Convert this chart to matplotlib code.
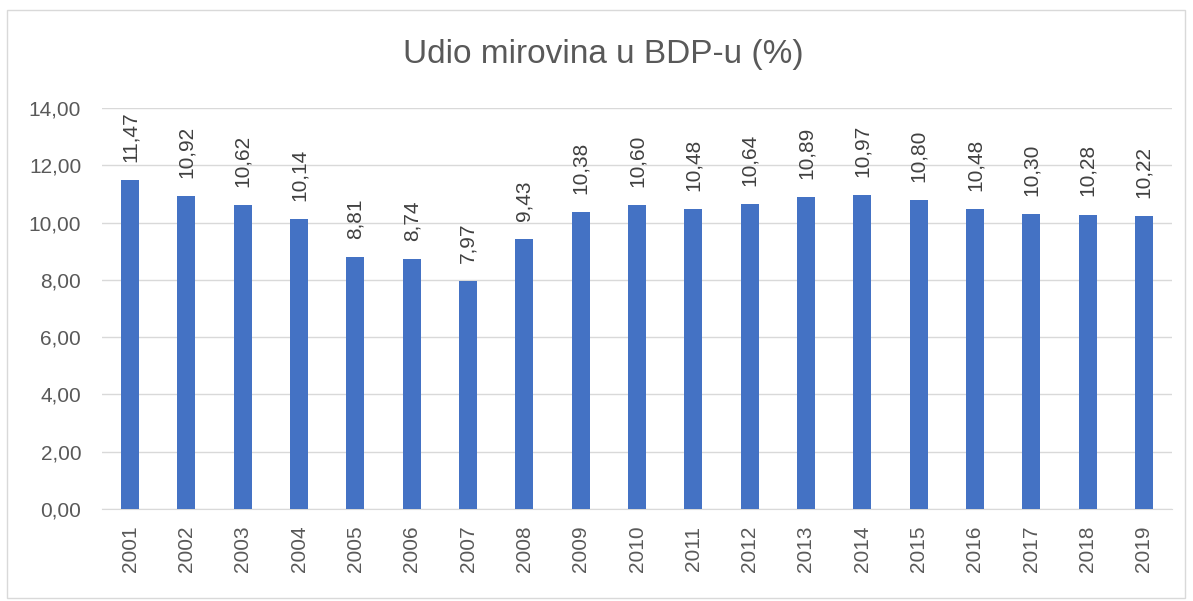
import matplotlib.pyplot as plt
from matplotlib.patches import Rectangle

years = ['2001', '2002', '2003', '2004', '2005', '2006', '2007', '2008', '2009', '2010',
         '2011', '2012', '2013', '2014', '2015', '2016', '2017', '2018', '2019']
values = [11.47, 10.92, 10.62, 10.14, 8.81, 8.74, 7.97, 9.43, 10.38, 10.60,
          10.48, 10.64, 10.89, 10.97, 10.80, 10.48, 10.30, 10.28, 10.22]
y_ticks = [0, 2, 4, 6, 8, 10, 12, 14]

plt.rcParams['font.family'] = ['Liberation Sans', 'DejaVu Sans']

fig = plt.figure(figsize=(11.93, 6.01), dpi=100)
ax = fig.add_axes([102 / 1193, 1 - 509 / 601, (1172 - 102) / 1193, (509 - 108) / 601])

# outer chart border
fig.patches.append(Rectangle((7 / 1193, 3 / 601), 1178 / 1193, 588 / 601,
                             transform=fig.transFigure, fill=False,
                             edgecolor='#d9d9d9', linewidth=1))

x = range(len(years))
ax.bar(x, values, width=0.32, color='#4472C4', zorder=3)

for i, v in zip(x, values):
    ax.annotate(f'{v:.2f}'.replace('.', ','), (i, v), xytext=(0, 13),
                textcoords='offset points', rotation=90, ha='center', va='bottom',
                fontsize=15, color='#404040')

ax.set_xlim(-0.5, len(years) - 0.5)
ax.set_ylim(0, 14)
ax.set_yticks(y_ticks)
ax.set_yticklabels([f'{t:.2f}'.replace('.', ',') for t in y_ticks])
ax.set_xticks(list(x))
ax.set_xticklabels(years, rotation=90)
ax.tick_params(axis='both', length=0, labelsize=15, labelcolor='#595959')
ax.tick_params(axis='x', pad=12)
ax.tick_params(axis='y', pad=15)
ax.grid(axis='y', color='#d9d9d9', linewidth=1, zorder=0)
for s in ['top', 'right', 'left']:
    ax.spines[s].set_visible(False)
ax.spines['bottom'].set_color('#d9d9d9')

fig.text(603 / 1193, 1 - 55 / 601, 'Udio mirovina u BDP-u (%)', ha='center', va='center',
         fontsize=24, color='#595959')

fig.savefig('out.png', dpi=100)
